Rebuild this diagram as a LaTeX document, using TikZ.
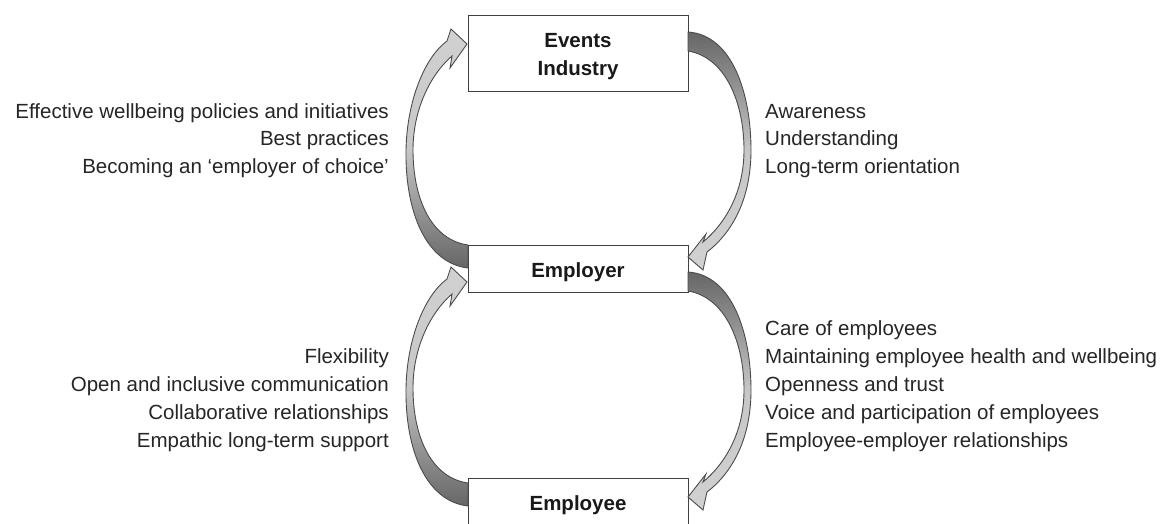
\documentclass[tikz,border=0pt]{standalone}
\usepackage{fontspec}
\setmainfont{Liberation Sans}
\begin{document}
\begin{tikzpicture}[x=1pt,y=-1pt,
  box/.style={draw=black!75,line width=1pt,fill=white,minimum width=220pt,inner sep=0pt},
  lbl/.style={font=\fontsize{20.5}{24}\selectfont,inner sep=0pt,text=black!85},
  blbl/.style={font=\fontsize{20.5}{24}\selectfont\bfseries,inner sep=0pt,text=black!90},
  arrL/.style={draw=black!70,line width=0.9pt,top color=black!18,bottom color=black!60,middle color=black!22},
  arrR/.style={draw=black!70,line width=0.9pt,top color=black!60,bottom color=black!18,middle color=black!22}]
\clip (0,0) rectangle (1170,523);
\fill[white] (0,0) rectangle (1170,523);
% boxes
\node[box,minimum height=76pt] (ev) at (578,53) {};
\node[box,minimum height=47pt] (er) at (578,268.5) {};
\node[box,minimum height=60pt] (ee) at (578,508) {};
\node[blbl,anchor=base] (evt1) at (578,47) {Events};
\node[blbl,anchor=base] (evt2) at (578,75) {Industry};
\node[blbl,anchor=base] (ert) at (578,277) {Employer};
\node[blbl,anchor=base] (eet) at (578,510) {Employee};
% curved arrows
\newcommand\myleftarr[1]{%
\path[arrL,shift={(0,#1)}] (468,268)
  .. controls (425,263) and (405,210) .. (406,150)
  .. controls (407,100) and (425,57) .. (447,41)
  -- (451,29) -- (467,44) -- (450,68) -- (452,56)
  .. controls (430,75) and (413,110) .. (413,150)
  .. controls (413,200) and (432,240) .. (468,245) -- cycle;}
\newcommand\myrightarr[1]{%
\path[arrR,shift={(0,#1)}] (688,32)
  .. controls (733,35) and (751,95) .. (751,150)
  .. controls (751,198) and (733,232) .. (707,252)
  -- (703,270) -- (688,257) -- (706,234) -- (703,242)
  .. controls (727,222) and (744,190) .. (744,150)
  .. controls (744,102) and (725,57) .. (688,51) -- cycle;}
\myleftarr{0}
\myrightarr{0}
\myleftarr{238}
\myrightarr{240}
% left top texts
\node[lbl,anchor=base east] (lt1) at (389,118) {Effective wellbeing policies and initiatives};
\node[lbl,anchor=base east] (lt2) at (389,145.5) {Best practices};
\node[lbl,anchor=base east] (lt3) at (389,173) {Becoming an ‘employer of choice’};
% right top texts
\node[lbl,anchor=base west] (rt1) at (765,118) {Awareness};
\node[lbl,anchor=base west] (rt2) at (765,145.5) {Understanding};
\node[lbl,anchor=base west] (rt3) at (765,173) {Long-term orientation};
% left bottom texts
\node[lbl,anchor=base east] (lb1) at (389,363) {Flexibility};
\node[lbl,anchor=base east] (lb2) at (389,391.5) {Open and inclusive communication};
\node[lbl,anchor=base east] (lb3) at (389,419.5) {Collaborative relationships};
\node[lbl,anchor=base east] (lb4) at (389,447) {Empathic long-term support};
% right bottom texts
\node[lbl,anchor=base west] (rb1) at (765,335) {Care of employees};
\node[lbl,anchor=base west] (rb2) at (765,363) {Maintaining employee health and wellbeing};
\node[lbl,anchor=base west] (rb3) at (765,391.5) {Openness and trust};
\node[lbl,anchor=base west] (rb4) at (765,419.5) {Voice and participation of employees};
\node[lbl,anchor=base west] (rb5) at (765,447) {Employee-employer relationships};
\end{tikzpicture}
\end{document}
